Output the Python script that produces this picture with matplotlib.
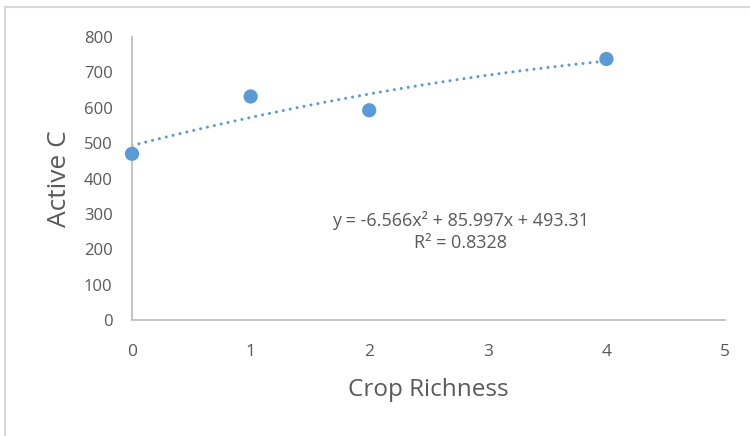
import matplotlib
matplotlib.use("Agg")
import matplotlib.pyplot as plt
import numpy as np
from matplotlib.lines import Line2D

crop_richness = [0, 1, 2, 4]
active_c = [470, 632, 593, 738]
coef = [-6.566, 85.997, 493.31]
eq_text = "y = -6.566x² + 85.997x + 493.31\nR² = 0.8328"
x_ticks = [0, 1, 2, 3, 4, 5]
y_ticks = [0, 100, 200, 300, 400, 500, 600, 700, 800]

plt.rcParams['font.family'] = ['Open Sans', 'DejaVu Sans']
blue = '#5b9bd5'
grey_txt = '#595959'

fig = plt.figure(figsize=(7.5, 4.36), dpi=100)
ax = fig.add_axes([0.176, 0.266, 0.7907, 0.649])

xs = np.linspace(crop_richness[0], crop_richness[-1], 200)
ys = np.polyval(coef, xs)
ax.plot(xs, ys, linestyle=(0, (0.01, 2.3)), color=blue, linewidth=2.2, dash_capstyle='round', zorder=2)
ax.scatter(crop_richness, active_c, s=105, color=blue, zorder=3, clip_on=False, edgecolors='none')

ax.set_xlim(0, 5)
ax.set_ylim(0, 800)
ax.set_xticks(x_ticks)
ax.set_yticks(y_ticks)
for s in ['top', 'right']:
    ax.spines[s].set_visible(False)
for s in ['left', 'bottom']:
    ax.spines[s].set_color('#bfbfbf')
    ax.spines[s].set_linewidth(1.3)
ax.tick_params(axis='both', length=0, colors=grey_txt)
ax.tick_params(axis='x', pad=17, labelsize=12.5)
ax.tick_params(axis='y', pad=14, labelsize=12)
ax.set_xlabel("Crop Richness", fontsize=17.5, color=grey_txt, labelpad=13)
ax.set_ylabel("Active C", fontsize=19, color=grey_txt, labelpad=8.6)

ax.text(2.77, 250, eq_text, ha='center', va='center', fontsize=13, color=grey_txt, linespacing=1.28)

fig.add_artist(Line2D([4.5/750, 4.5/750], [0, 1 - 7.5/436], transform=fig.transFigure, color='#d9d9d9', linewidth=1.5))
fig.add_artist(Line2D([4.5/750, 749/750], [1 - 7.5/436, 1 - 7.5/436], transform=fig.transFigure, color='#d9d9d9', linewidth=1.5))

fig.savefig("out.png", dpi=100)
